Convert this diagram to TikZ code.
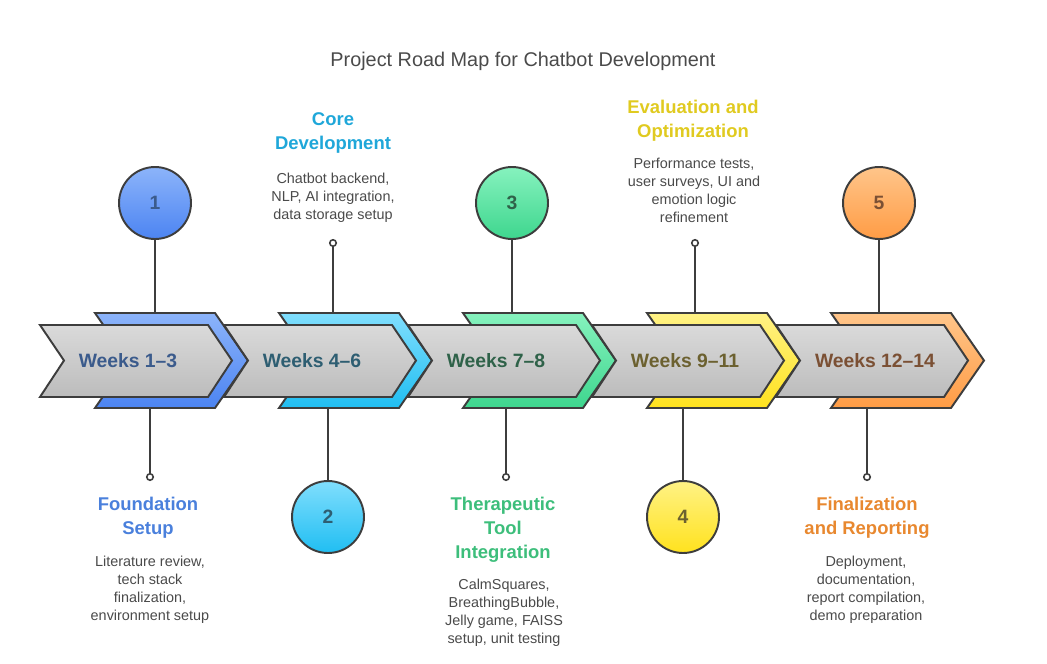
\documentclass[tikz,border=0pt]{standalone}
\usepackage{fontspec}
\setmainfont{Liberation Sans}
\usepackage{tikz}
\usetikzlibrary{positioning}
\usepackage{xcolor}
\definecolor{outline}{RGB}{61, 61, 61}
\definecolor{greytop}{RGB}{218, 218, 218}
\definecolor{greybot}{RGB}{188, 188, 188}
\definecolor{desctext}{RGB}{74, 74, 74}
\definecolor{foundtop}{RGB}{140, 180, 250}
\definecolor{foundbot}{RGB}{76, 132, 242}
\definecolor{foundhead}{RGB}{74, 128, 220}
\definecolor{foundtext}{RGB}{59, 91, 140}
\definecolor{coretop}{RGB}{128, 222, 253}
\definecolor{corebot}{RGB}{32, 190, 242}
\definecolor{corehead}{RGB}{31, 167, 217}
\definecolor{coretext}{RGB}{46, 94, 114}
\definecolor{tooltop}{RGB}{134, 242, 190}
\definecolor{toolbot}{RGB}{62, 214, 142}
\definecolor{toolhead}{RGB}{61, 190, 123}
\definecolor{tooltext}{RGB}{47, 98, 73}
\definecolor{evaltop}{RGB}{255, 242, 133}
\definecolor{evalbot}{RGB}{255, 226, 30}
\definecolor{evalhead}{RGB}{224, 202, 32}
\definecolor{evaltext}{RGB}{108, 97, 48}
\definecolor{finaltop}{RGB}{255, 197, 138}
\definecolor{finalbot}{RGB}{255, 156, 69}
\definecolor{finalhead}{RGB}{232, 136, 47}
\definecolor{finaltext}{RGB}{123, 80, 52}

\begin{document}
\begin{tikzpicture}[x=0.02cm, y=-0.02cm,
    chevron/.style={draw=outline, line width=1.1pt, line join=miter},
    greychev/.style={chevron, top color=greytop, bottom color=greybot},
    stepcircle/.style={circle, draw=outline, line width=1.1pt, minimum size=1.44cm, inner sep=0pt, font=\bfseries\fontsize{11}{13}\selectfont},
    pin/.style={circle, draw=outline, fill=white, line width=0.9pt, minimum size=0.13cm, inner sep=0pt},
    stem/.style={draw=outline, line width=1.1pt},
    weeks/.style={font=\bfseries\fontsize{11}{13}\selectfont},
    heading/.style={align=center, anchor=north, inner sep=0pt, font=\bfseries\fontsize{10.5}{13.6}\selectfont},
    desc/.style={align=center, anchor=north, inner sep=0pt, text=desctext, font=\fontsize{8.2}{10.2}\selectfont}]
    \useasboundingbox (0,0) rectangle (1047,663);

    \node[text=desctext, font=\fontsize{11.3}{13}\selectfont] (title) at (523,61) {Project Road Map for Chatbot Development};

    % Colored and gray chevrons
    \draw[chevron, top color=foundtop, bottom color=foundbot] (95,313) -- (215,313) -- (248,360.5) -- (215,408) -- (95,408) -- (128,360.5) -- cycle;
    \draw[greychev] (40,325) -- (208,325) -- (232,360.5) -- (208,397) -- (40,397) -- (64,360.5) -- cycle;

    \draw[chevron, top color=coretop, bottom color=corebot, shift={(184,0)}] (95,313) -- (215,313) -- (248,360.5) -- (215,408) -- (95,408) -- (128,360.5) -- cycle;
    \draw[greychev, shift={(184,0)}] (40,325) -- (208,325) -- (232,360.5) -- (208,397) -- (40,397) -- (64,360.5) -- cycle;

    \draw[chevron, top color=tooltop, bottom color=toolbot, shift={(368,0)}] (95,313) -- (215,313) -- (248,360.5) -- (215,408) -- (95,408) -- (128,360.5) -- cycle;
    \draw[greychev, shift={(368,0)}] (40,325) -- (208,325) -- (232,360.5) -- (208,397) -- (40,397) -- (64,360.5) -- cycle;

    \draw[chevron, top color=evaltop, bottom color=evalbot, shift={(552,0)}] (95,313) -- (215,313) -- (248,360.5) -- (215,408) -- (95,408) -- (128,360.5) -- cycle;
    \draw[greychev, shift={(552,0)}] (40,325) -- (208,325) -- (232,360.5) -- (208,397) -- (40,397) -- (64,360.5) -- cycle;

    \draw[chevron, top color=finaltop, bottom color=finalbot, shift={(736,0)}] (95,313) -- (215,313) -- (248,360.5) -- (215,408) -- (95,408) -- (128,360.5) -- cycle;
    \draw[greychev, shift={(736,0)}] (40,325) -- (208,325) -- (232,360.5) -- (208,397) -- (40,397) -- (64,360.5) -- cycle;

    % Week labels
    \node[weeks, text=foundtext] (w1) at (128,361) {Weeks 1--3};
    \node[weeks, text=coretext] (w2) at (312,361) {Weeks 4--6};
    \node[weeks, text=tooltext] (w3) at (496,361) {Weeks 7--8};
    \node[weeks, text=evaltext] (w4) at (685,361) {Weeks 9--11};
    \node[weeks, text=finaltext] (w5) at (875,361) {Weeks 12--14};

    % Attach points on the chevrons
    \coordinate (t1) at (155,313);
    \coordinate (t2) at (333,313);
    \coordinate (t3) at (512,313);
    \coordinate (t4) at (695,313);
    \coordinate (t5) at (879,313);
    \coordinate (b1) at (150,408);
    \coordinate (b2) at (328,408);
    \coordinate (b3) at (506,408);
    \coordinate (b4) at (683,408);
    \coordinate (b5) at (867,408);

    % Step circles and pins
    \node[stepcircle, top color=foundtop, bottom color=foundbot, text=foundtext] (c1) at (155,203) {1};
    \node[stepcircle, top color=coretop, bottom color=corebot, text=coretext] (c2) at (328,517) {2};
    \node[stepcircle, top color=tooltop, bottom color=toolbot, text=tooltext] (c3) at (512,203) {3};
    \node[stepcircle, top color=evaltop, bottom color=evalbot, text=evaltext] (c4) at (683,517) {4};
    \node[stepcircle, top color=finaltop, bottom color=finalbot, text=finaltext] (c5) at (879,203) {5};

    \node[pin] (p1) at (150,477) {};
    \node[pin] (p2) at (333,243) {};
    \node[pin] (p3) at (506,477) {};
    \node[pin] (p4) at (695,243) {};
    \node[pin] (p5) at (867,477) {};

    \draw[stem] (c1) -- (t1);
    \draw[stem] (b1) -- (p1);
    \draw[stem] (p2) -- (t2);
    \draw[stem] (b2) -- (c2);
    \draw[stem] (c3) -- (t3);
    \draw[stem] (b3) -- (p3);
    \draw[stem] (p4) -- (t4);
    \draw[stem] (b4) -- (c4);
    \draw[stem] (c5) -- (t5);
    \draw[stem] (b5) -- (p5);

    % Phase headings and descriptions
    \node[heading, text=foundhead] (h1) at (148,497) {Foundation\\Setup};
    \node[desc] (d1) at (150,556) {Literature review,\\tech stack\\finalization,\\environment setup};

    \node[heading, text=corehead] (h2) at (333,112) {Core\\Development};
    \node[desc] (d2) at (333,173) {Chatbot backend,\\NLP, AI integration,\\data storage setup};

    \node[heading, text=toolhead] (h3) at (503,497) {Therapeutic\\Tool\\Integration};
    \node[desc] (d3) at (504,579) {CalmSquares,\\BreathingBubble,\\Jelly game, FAISS\\setup, unit testing};

    \node[heading, text=evalhead] (h4) at (693,100) {Evaluation and\\Optimization};
    \node[desc] (d4) at (694,158) {Performance tests,\\user surveys, UI and\\emotion logic\\refinement};

    \node[heading, text=finalhead] (h5) at (867,497) {Finalization\\and Reporting};
    \node[desc] (d5) at (866,556) {Deployment,\\documentation,\\report compilation,\\demo preparation};
\end{tikzpicture}
\end{document}
